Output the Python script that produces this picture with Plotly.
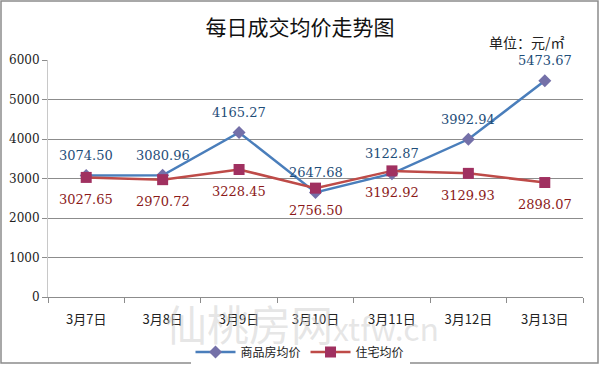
import plotly.graph_objects as go

categories = ["3月7日", "3月8日", "3月9日", "3月10日", "3月11日", "3月12日", "3月13日"]
commercial = [3074.50, 3080.96, 4165.27, 2647.68, 3122.87, 3992.94, 5473.67]
residential = [3027.65, 2970.72, 3228.45, 2756.50, 3192.92, 3129.93, 2898.07]
y_ticks = [0, 1000, 2000, 3000, 4000, 5000, 6000]

W, H = 600, 365
ML, MR, MT, MB = 48, 17, 60, 68
PW, PH = W - ML - MR, H - MT - MB

def px(x):
    return (x - ML) / PW

def py(y):
    return (H - MB - y) / PH

BLUE_TXT = "#1F4E79"
RED_TXT = "#8B1A1A"

fig = go.Figure()
fig.add_trace(go.Scatter(
    x=categories, y=commercial, name="商品房均价", mode="lines+markers",
    line=dict(color="#4A7EBB", width=2.5),
    marker=dict(symbol="diamond", size=10, color="#7470A8"),
))
fig.add_trace(go.Scatter(
    x=categories, y=residential, name="住宅均价", mode="lines+markers",
    line=dict(color="#BE4B48", width=2.5),
    marker=dict(symbol="square", size=11, color="#A03060"),
))

for c, v in zip(categories, commercial):
    fig.add_annotation(x=c, y=v, text=f"{v:.2f}", showarrow=False, yshift=20,
                       font=dict(family="DejaVu Serif", size=13, color=BLUE_TXT))
for c, v in zip(categories, residential):
    fig.add_annotation(x=c, y=v, text=f"{v:.2f}", showarrow=False, yshift=-22,
                       font=dict(family="DejaVu Serif", size=13, color=RED_TXT))

fig.update_layout(
    width=W, height=H,
    margin=dict(l=ML, r=MR, t=MT, b=MB, autoexpand=False),
    paper_bgcolor="white", plot_bgcolor="white",
    showlegend=True,
    legend=dict(orientation="h", x=0.5, xanchor="center", xref="container",
                y=(H - 352) / H, yanchor="middle", yref="container",
                font=dict(family="Noto Sans CJK SC", size=12, color="#222"),
                itemwidth=40),
    title=dict(text="每日成交均价走势图", x=0.5, xanchor="center", xref="container",
               y=(H - 28) / H, yanchor="middle", yref="container",
               font=dict(family="Noto Sans CJK SC", size=21, color="#111")),
    xaxis=dict(type="category", showgrid=False, showline=True, linecolor="#8c8c8c",
               ticks="outside", tickson="boundaries", ticklen=5, tickcolor="#8c8c8c",
               tickfont=dict(family="Noto Sans CJK SC", size=13, color="#222"),
               ticklabelstandoff=10, range=[-0.5, 6.5]),
    yaxis=dict(range=[0, 6000], tickvals=y_ticks, showgrid=True, gridcolor="#8c8c8c",
               gridwidth=1, showline=True, linecolor="#c8c8c8", zeroline=False,
               ticks="outside", ticklen=5, tickcolor="#8c8c8c",
               tickfont=dict(family="DejaVu Serif", size=12, color="#222")),
)

fig.add_annotation(text="单位：元/㎡", xref="paper", yref="paper", x=px(567), y=py(42),
                   xanchor="right", yanchor="middle", showarrow=False,
                   font=dict(family="Noto Sans CJK SC", size=14, color="#222"))
fig.add_annotation(text="仙桃房网<span style='font-size:32px'>xtfw.cn</span>", xref="paper", yref="paper",
                   x=px(302), y=py(322), xanchor="center", yanchor="middle", showarrow=False,
                   font=dict(family="Noto Sans CJK SC", size=42, color="rgba(200,200,200,0.45)"))

fig.add_shape(type="rect", xref="paper", yref="paper", x0=px(1), x1=px(598), y0=py(363), y1=py(1),
              line=dict(color="#8c8c8c", width=1.5), fillcolor="rgba(0,0,0,0)", layer="below")

fig.write_html("out.html")
